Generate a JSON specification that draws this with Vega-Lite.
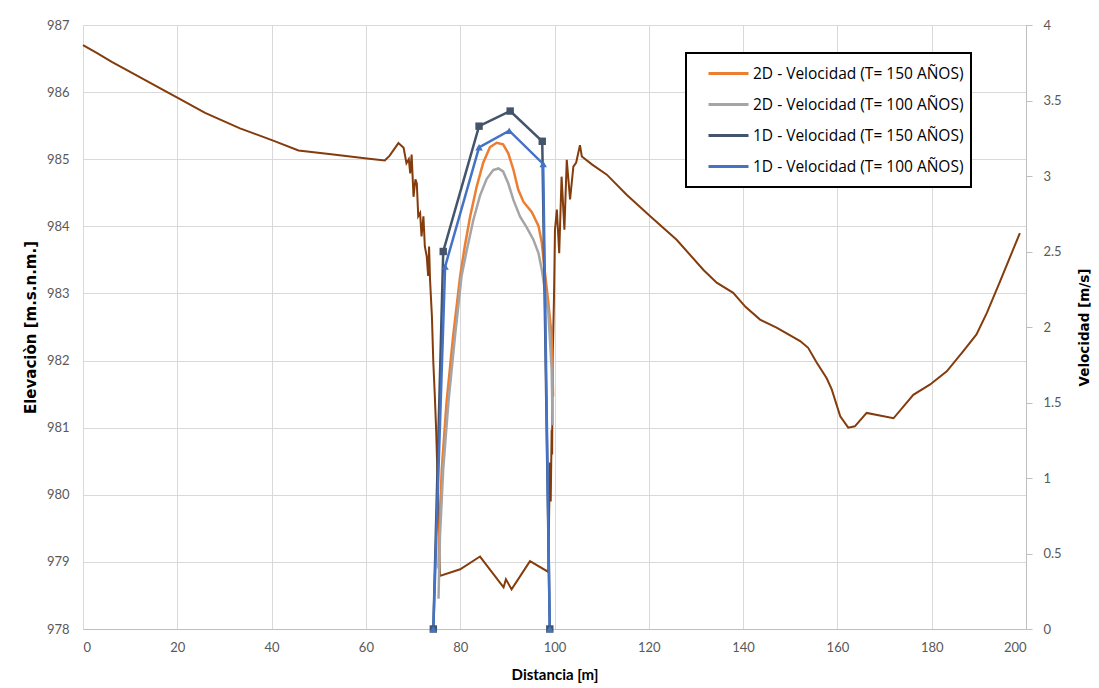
{
  "$schema": "https://vega.github.io/schema/vega-lite/v6.json",
  "width": 943,
  "height": 604,
  "autosize": {"type": "none"},
  "padding": {"left": 83, "top": 25, "right": 73, "bottom": 59},
  "background": "white",
  "config": {
    "view": {"stroke": null},
    "font": "Lato",
    "axis": {
      "labelFont": "Lato", "labelFontSize": 13, "labelColor": "#595959",
      "titleFont": "Lato", "titleFontSize": 15, "titleFontWeight": "bold", "titleColor": "#000000",
      "gridColor": "#D9D9D9", "gridWidth": 1, "domainColor": "#BFBFBF", "tickColor": "#BFBFBF"
    },
    "legend": {
      "labelFont": "Open Sans", "labelFontSize": 15.5, "labelColor": "#000000"
    }
  },
  "datasets": {
    "terreno": [
      {"d": 0, "elev": 986.70}, {"d": 3, "elev": 986.58}, {"d": 6.1, "elev": 986.45}, {"d": 10, "elev": 986.30},
      {"d": 16.3, "elev": 986.06}, {"d": 20.2, "elev": 985.91}, {"d": 25.9, "elev": 985.69}, {"d": 33.3, "elev": 985.46},
      {"d": 40.2, "elev": 985.28}, {"d": 45.7, "elev": 985.13}, {"d": 53.1, "elev": 985.07}, {"d": 60.2, "elev": 985.01},
      {"d": 64.0, "elev": 984.98}, {"d": 65.0, "elev": 985.05}, {"d": 66.9, "elev": 985.24}, {"d": 68.0, "elev": 985.17},
      {"d": 68.6, "elev": 984.94}, {"d": 69.1, "elev": 985.00}, {"d": 69.4, "elev": 984.79}, {"d": 69.7, "elev": 985.07},
      {"d": 70.1, "elev": 984.44}, {"d": 70.5, "elev": 984.70}, {"d": 70.8, "elev": 984.64}, {"d": 71.1, "elev": 984.15},
      {"d": 71.5, "elev": 984.20}, {"d": 71.8, "elev": 983.85}, {"d": 72.2, "elev": 984.15}, {"d": 72.5, "elev": 983.70},
      {"d": 72.9, "elev": 983.55}, {"d": 73.2, "elev": 983.26}, {"d": 73.4, "elev": 983.70}, {"d": 73.6, "elev": 983.21},
      {"d": 74.0, "elev": 982.66}, {"d": 74.3, "elev": 981.97}, {"d": 74.6, "elev": 981.50}, {"d": 74.9, "elev": 980.97},
      {"d": 75.1, "elev": 980.48}, {"d": 75.4, "elev": 979.73}, {"d": 75.7, "elev": 978.79}, {"d": 80.0, "elev": 978.89},
      {"d": 84.2, "elev": 979.08}, {"d": 89.2, "elev": 978.62}, {"d": 89.7, "elev": 978.74}, {"d": 90.9, "elev": 978.59},
      {"d": 94.8, "elev": 979.01}, {"d": 98.7, "elev": 978.85}, {"d": 99.0, "elev": 980.48}, {"d": 99.2, "elev": 979.90},
      {"d": 99.4, "elev": 980.97}, {"d": 99.5, "elev": 980.60}, {"d": 99.6, "elev": 981.97}, {"d": 99.9, "elev": 982.96},
      {"d": 100.1, "elev": 983.95}, {"d": 100.5, "elev": 984.25}, {"d": 101.0, "elev": 983.60}, {"d": 101.5, "elev": 984.74},
      {"d": 102.1, "elev": 983.95}, {"d": 102.6, "elev": 984.99}, {"d": 103.3, "elev": 984.40}, {"d": 104.0, "elev": 984.89},
      {"d": 104.6, "elev": 984.95}, {"d": 105.4, "elev": 985.21}, {"d": 105.8, "elev": 985.04}, {"d": 108.0, "elev": 984.92},
      {"d": 111.1, "elev": 984.77}, {"d": 115.3, "elev": 984.47}, {"d": 120.3, "elev": 984.15}, {"d": 125.9, "elev": 983.80},
      {"d": 131.6, "elev": 983.35}, {"d": 134.4, "elev": 983.16}, {"d": 137.9, "elev": 983.01}, {"d": 140.5, "elev": 982.80},
      {"d": 143.6, "elev": 982.61}, {"d": 147.1, "elev": 982.49}, {"d": 152.1, "elev": 982.29}, {"d": 153.8, "elev": 982.19},
      {"d": 155.6, "elev": 981.97}, {"d": 157.7, "elev": 981.74}, {"d": 158.8, "elev": 981.57}, {"d": 160.6, "elev": 981.17},
      {"d": 162.3, "elev": 981.00}, {"d": 163.7, "elev": 981.02}, {"d": 166.2, "elev": 981.22}, {"d": 171.9, "elev": 981.14},
      {"d": 176.1, "elev": 981.49}, {"d": 179.6, "elev": 981.64}, {"d": 183.2, "elev": 981.84}, {"d": 186.7, "elev": 982.14},
      {"d": 189.5, "elev": 982.39}, {"d": 191.7, "elev": 982.71}, {"d": 194.5, "elev": 983.18}, {"d": 198.7, "elev": 983.90}
    ],
    "vel": [
      {"serie": "2D - Velocidad (T= 150 AÑOS)", "d": 75.4, "v": 0.40},
      {"serie": "2D - Velocidad (T= 150 AÑOS)", "d": 75.6, "v": 0.68},
      {"serie": "2D - Velocidad (T= 150 AÑOS)", "d": 76.1, "v": 1.06},
      {"serie": "2D - Velocidad (T= 150 AÑOS)", "d": 77.1, "v": 1.50},
      {"serie": "2D - Velocidad (T= 150 AÑOS)", "d": 78.5, "v": 1.94},
      {"serie": "2D - Velocidad (T= 150 AÑOS)", "d": 80.0, "v": 2.34},
      {"serie": "2D - Velocidad (T= 150 AÑOS)", "d": 81.0, "v": 2.54},
      {"serie": "2D - Velocidad (T= 150 AÑOS)", "d": 82.1, "v": 2.73},
      {"serie": "2D - Velocidad (T= 150 AÑOS)", "d": 83.5, "v": 2.93},
      {"serie": "2D - Velocidad (T= 150 AÑOS)", "d": 84.9, "v": 3.09},
      {"serie": "2D - Velocidad (T= 150 AÑOS)", "d": 86.3, "v": 3.19},
      {"serie": "2D - Velocidad (T= 150 AÑOS)", "d": 87.7, "v": 3.22},
      {"serie": "2D - Velocidad (T= 150 AÑOS)", "d": 89.1, "v": 3.21},
      {"serie": "2D - Velocidad (T= 150 AÑOS)", "d": 90.2, "v": 3.15},
      {"serie": "2D - Velocidad (T= 150 AÑOS)", "d": 91.3, "v": 3.04},
      {"serie": "2D - Velocidad (T= 150 AÑOS)", "d": 92.3, "v": 2.91},
      {"serie": "2D - Velocidad (T= 150 AÑOS)", "d": 93.4, "v": 2.83},
      {"serie": "2D - Velocidad (T= 150 AÑOS)", "d": 95.2, "v": 2.76},
      {"serie": "2D - Velocidad (T= 150 AÑOS)", "d": 96.6, "v": 2.67},
      {"serie": "2D - Velocidad (T= 150 AÑOS)", "d": 97.3, "v": 2.56},
      {"serie": "2D - Velocidad (T= 150 AÑOS)", "d": 97.9, "v": 2.38},
      {"serie": "2D - Velocidad (T= 150 AÑOS)", "d": 98.7, "v": 2.16},
      {"serie": "2D - Velocidad (T= 150 AÑOS)", "d": 99.4, "v": 1.94},
      {"serie": "2D - Velocidad (T= 150 AÑOS)", "d": 99.7, "v": 1.54},
      {"serie": "2D - Velocidad (T= 100 AÑOS)", "d": 75.4, "v": 0.20},
      {"serie": "2D - Velocidad (T= 100 AÑOS)", "d": 75.7, "v": 0.61},
      {"serie": "2D - Velocidad (T= 100 AÑOS)", "d": 76.4, "v": 1.06},
      {"serie": "2D - Velocidad (T= 100 AÑOS)", "d": 77.5, "v": 1.50},
      {"serie": "2D - Velocidad (T= 100 AÑOS)", "d": 78.9, "v": 1.94},
      {"serie": "2D - Velocidad (T= 100 AÑOS)", "d": 80.3, "v": 2.34},
      {"serie": "2D - Velocidad (T= 100 AÑOS)", "d": 81.4, "v": 2.51},
      {"serie": "2D - Velocidad (T= 100 AÑOS)", "d": 82.8, "v": 2.71},
      {"serie": "2D - Velocidad (T= 100 AÑOS)", "d": 84.2, "v": 2.87},
      {"serie": "2D - Velocidad (T= 100 AÑOS)", "d": 85.6, "v": 2.98},
      {"serie": "2D - Velocidad (T= 100 AÑOS)", "d": 87.0, "v": 3.04},
      {"serie": "2D - Velocidad (T= 100 AÑOS)", "d": 88.1, "v": 3.05},
      {"serie": "2D - Velocidad (T= 100 AÑOS)", "d": 89.1, "v": 3.03},
      {"serie": "2D - Velocidad (T= 100 AÑOS)", "d": 90.2, "v": 2.95},
      {"serie": "2D - Velocidad (T= 100 AÑOS)", "d": 91.3, "v": 2.84},
      {"serie": "2D - Velocidad (T= 100 AÑOS)", "d": 92.7, "v": 2.73},
      {"serie": "2D - Velocidad (T= 100 AÑOS)", "d": 94.1, "v": 2.66},
      {"serie": "2D - Velocidad (T= 100 AÑOS)", "d": 95.5, "v": 2.58},
      {"serie": "2D - Velocidad (T= 100 AÑOS)", "d": 96.6, "v": 2.49},
      {"serie": "2D - Velocidad (T= 100 AÑOS)", "d": 97.3, "v": 2.38},
      {"serie": "2D - Velocidad (T= 100 AÑOS)", "d": 98.7, "v": 2.09},
      {"serie": "2D - Velocidad (T= 100 AÑOS)", "d": 99.4, "v": 1.72},
      {"serie": "2D - Velocidad (T= 100 AÑOS)", "d": 99.6, "v": 1.35},
      {"serie": "1D - Velocidad (T= 150 AÑOS)", "d": 74.3, "v": 0},
      {"serie": "1D - Velocidad (T= 150 AÑOS)", "d": 76.4, "v": 2.50},
      {"serie": "1D - Velocidad (T= 150 AÑOS)", "d": 84.0, "v": 3.33},
      {"serie": "1D - Velocidad (T= 150 AÑOS)", "d": 90.6, "v": 3.43},
      {"serie": "1D - Velocidad (T= 150 AÑOS)", "d": 97.4, "v": 3.23},
      {"serie": "1D - Velocidad (T= 150 AÑOS)", "d": 99.0, "v": 0},
      {"serie": "1D - Velocidad (T= 100 AÑOS)", "d": 74.3, "v": 0},
      {"serie": "1D - Velocidad (T= 100 AÑOS)", "d": 76.8, "v": 2.40},
      {"serie": "1D - Velocidad (T= 100 AÑOS)", "d": 84.0, "v": 3.19},
      {"serie": "1D - Velocidad (T= 100 AÑOS)", "d": 90.4, "v": 3.30},
      {"serie": "1D - Velocidad (T= 100 AÑOS)", "d": 97.6, "v": 3.08},
      {"serie": "1D - Velocidad (T= 100 AÑOS)", "d": 99.0, "v": 0}
    ]
  },
  "layer": [
    {
      "data": {"name": "terreno"},
      "mark": {"type": "line", "color": "#843C0C", "strokeWidth": 2},
      "encoding": {
        "x": {
          "field": "d", "type": "quantitative",
          "scale": {"domain": [0, 200], "nice": false},
          "axis": {"title": "Distancia [m]", "values": [0, 20, 40, 60, 80, 100, 120, 140, 160, 180, 200], "grid": true, "ticks": false, "labelPadding": 12, "titlePadding": 13, "titleFontSize": 15}
        },
        "y": {
          "field": "elev", "type": "quantitative",
          "scale": {"domain": [978, 987], "nice": false, "zero": false},
          "axis": {"title": "Elevaciòn [m.s.n.m.]", "titleFont": "DejaVu Sans", "titleFontSize": 15, "values": [978, 979, 980, 981, 982, 983, 984, 985, 986, 987], "grid": true, "ticks": false, "domain": false, "labelPadding": 14, "titlePadding": 8}
        }
      }
    },
    {
      "data": {"name": "vel"},
      "encoding": {
        "x": {"field": "d", "type": "quantitative"},
        "y": {
          "field": "v", "type": "quantitative",
          "scale": {"domain": [0, 4], "nice": false},
          "axis": {"orient": "right", "title": "Velocidad [m/s]", "titleFont": "DejaVu Sans", "titleFontSize": 13.5, "titleAngle": 270, "values": [0, 0.5, 1, 1.5, 2, 2.5, 3, 3.5, 4], "labelExpr": "'' + datum.value", "grid": false, "ticks": true, "tickSize": 6, "labelPadding": 11, "titlePadding": 30}
        },
        "color": {
          "field": "serie", "type": "nominal",
          "scale": {
            "domain": ["2D - Velocidad (T= 150 AÑOS)", "2D - Velocidad (T= 100 AÑOS)", "1D - Velocidad (T= 150 AÑOS)", "1D - Velocidad (T= 100 AÑOS)"],
            "range": ["#ED7D31", "#A5A5A5", "#44546A", "#4472C4"]
          },
          "legend": {
            "title": null, "orient": "none", "legendX": 603, "legendY": 28,
            "symbolType": "stroke", "symbolSize": 1600, "symbolStrokeWidth": 3, "symbolOffset": 14,
            "labelOffset": 3, "labelLimit": 400, "padding": 7, "rowPadding": 4, "clipHeight": 27,
            "strokeColor": "#000000", "fillColor": "#FFFFFF",
            "encode": {"legend": {"update": {"strokeWidth": {"value": 2}}}}
          }
        }
      },
      "layer": [
        {"mark": {"type": "line", "strokeWidth": 2.5}, "encoding": {"detail": {"field": "serie"}}},
        {
          "transform": [{"filter": "indexof(datum.serie, '1D') == 0"}],
          "mark": {"type": "point", "filled": true, "opacity": 1, "size": 55},
          "encoding": {
            "shape": {
              "field": "serie", "type": "nominal",
              "scale": {"domain": ["1D - Velocidad (T= 150 AÑOS)", "1D - Velocidad (T= 100 AÑOS)"], "range": ["square", "triangle-up"]},
              "legend": null
            }
          }
        }
      ]
    }
  ],
  "resolve": {"scale": {"y": "independent"}}
}
